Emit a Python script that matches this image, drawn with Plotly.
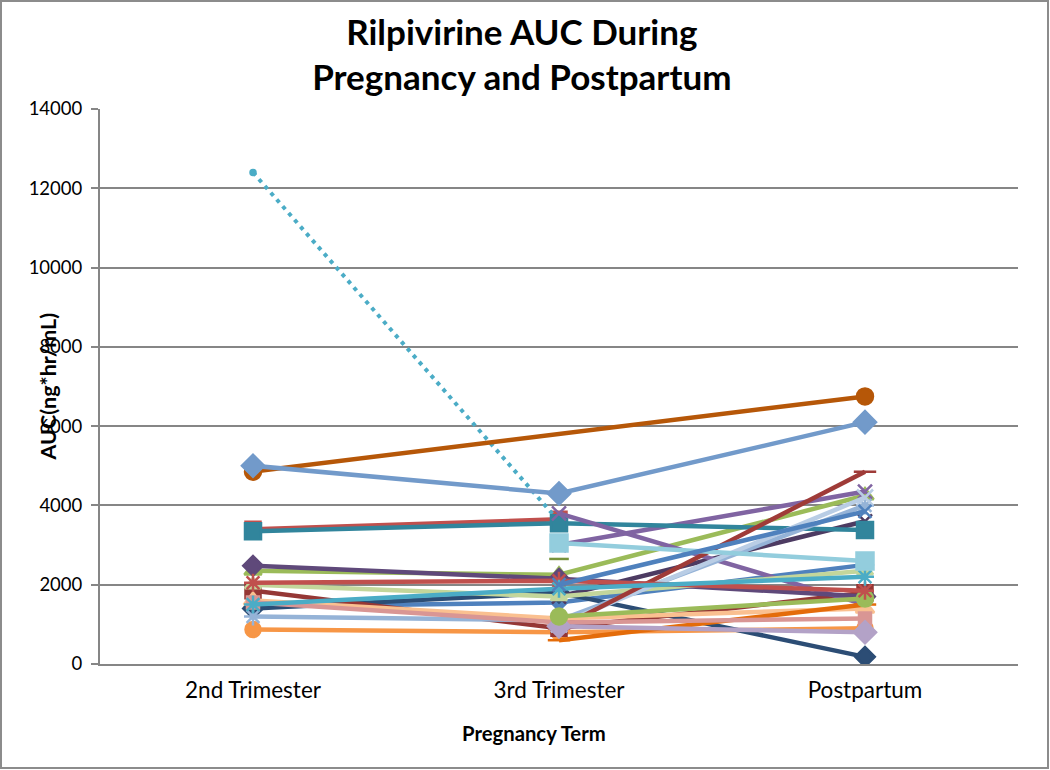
import plotly.graph_objects as go

categories = ["2nd Trimester", "3rd Trimester", "Postpartum"]
y_ticks = [0, 2000, 4000, 6000, 8000, 10000, 12000, 14000]

# AUC values (ng*hr/mL) per subject: [2nd Trimester, 3rd Trimester, Postpartum]
p01 = [1450, 1550, 2500]
p02 = [3400, 3650, None]
p03 = [2350, 2250, 4250]
p04 = [None, 3000, 4350]
p05 = [12400, 3600, None]
p06 = [870, 800, 900]
p07 = [1400, 1800, 180]
p08 = [1850, 900, 1800]
p09 = [None, 2650, None]
p10 = [None, 1700, 3600]
p11 = [3350, 3550, 3380]
p12 = [4850, None, 6750]
p13 = [5000, 4300, 6100]
p14 = [None, 3800, 1500]
p15 = [2480, 2150, 1700]
p16 = [2000, 1700, 2350]
p17 = [1200, 1100, 4000]
p18 = [None, 1000, 4200]
p19 = [None, 900, 4850]
p20 = [1600, 1150, 1400]
p21 = [None, 600, 1500]
p22 = [1550, 1050, 1150]
p23 = [None, 950, 800]
p24 = [None, 1200, 1650]
p25 = [2050, 2100, 1850]
p26 = [1500, 1900, 2200]
p27 = [None, 3050, 2600]
p28 = [None, 2000, 3850]

series = [p01, p02, p03, p04, p05, p06, p07, p08, p09, p10, p11, p12, p13, p14,
          p15, p16, p17, p18, p19, p20, p21, p22, p23, p24, p25, p26, p27, p28]

# styles (color, marker symbol, marker size, dash)
styles = [
    ("#4F81BD", "diamond", 12, "solid"),
    ("#C0504D", "square", 15, "solid"),
    ("#9BBB59", "triangle-up", 15, "solid"),
    ("#8064A2", "x-thin-open", 14, "solid"),
    ("#4BACC6", "circle", 5, "4px,5px"),
    ("#F79646", "circle", 15, "solid"),
    ("#2C4D75", "diamond", 15, "solid"),
    ("#953735", "square", 15, "solid"),
    ("#77933C", "line-ew-open", 14, "solid"),
    ("#4D3B62", "x-thin-open", 14, "solid"),
    ("#31859C", "square", 16, "solid"),
    ("#B65708", "circle", 16, "solid"),
    ("#729ACA", "diamond", 17, "solid"),
    ("#8064A2", "x-thin-open", 14, "solid"),
    ("#5F497A", "diamond", 15, "solid"),
    ("#C3D69B", "triangle-up", 14, "solid"),
    ("#95B3D7", "asterisk-open", 15, "solid"),
    ("#B9CDE5", "x-thin-open", 16, "solid"),
    ("#9F3B38", "line-ew-open", 16, "solid"),
    ("#FAC090", "triangle-up", 16, "solid"),
    ("#E46C0A", "line-ew-open", 16, "solid"),
    ("#D99694", "square", 12, "solid"),
    ("#B3A2C7", "diamond", 17, "solid"),
    ("#9BBB59", "circle", 16, "solid"),
    ("#C0504D", "asterisk-open", 15, "solid"),
    ("#4BACC6", "asterisk-open", 15, "solid"),
    ("#93CDDD", "square", 17, "solid"),
    ("#4F81BD", "x-thin-open", 13, "solid"),
]

x_pos = [0, 1, 2]

fig = go.Figure()
for vals, (col, sym, size, dash) in zip(series, styles):
    width = 4 if dash != "solid" else 4.5
    fig.add_trace(go.Scatter(
        x=x_pos, y=vals, mode="lines+markers", connectgaps=True,
        line=dict(color=col, width=width, dash=dash),
        marker=dict(symbol=sym, size=size, color=col,
                    line=dict(color=col, width=2.5)),
        showlegend=False, hoverinfo="y",
    ))

grid = "#868686"
fig.update_layout(
    width=1050, height=770,
    margin=dict(l=100, r=32, t=109, b=106),
    paper_bgcolor="white", plot_bgcolor="white",
    font=dict(family="Lato, Carlito, 'Open Sans', sans-serif", color="black"),
    title=dict(text="<b>Rilpivirine AUC During<br>Pregnancy and Postpartum</b>",
               x=0.497, xanchor="center", y=0.942, yanchor="middle",
               font=dict(size=35, family="Lato, Carlito, sans-serif", color="black")),
    xaxis=dict(range=[-0.5, 2.5], tickvals=x_pos, ticktext=categories,
               showgrid=False, zeroline=False, showline=True, linecolor=grid,
               linewidth=2, ticks="", tickfont=dict(size=22.5), ticklabelstandoff=5),
    yaxis=dict(range=[0, 14000], tickvals=y_ticks,
               ticktext=[str(v) for v in y_ticks], showgrid=True, gridcolor=grid,
               gridwidth=2, zeroline=False, showline=True, linecolor=grid, linewidth=2,
               ticks="outside", ticklen=7, tickcolor=grid, tickwidth=2,
               tickfont=dict(size=18.5), ticklabelstandoff=5),
    annotations=[
        dict(text="<b>AUC(ng*hr/mL)</b>", textangle=-90, xref="paper", yref="paper",
             x=-53/918, y=0.5, xanchor="center", yanchor="middle", showarrow=False,
             font=dict(size=21.5)),
        dict(text="<b>Pregnancy Term</b>", xref="paper", yref="paper",
             x=0.473, y=-69/555, xanchor="center", yanchor="middle", showarrow=False,
             font=dict(size=20.3)),
    ],
    shapes=[dict(type="rect", xref="paper", yref="paper",
                 x0=-99/918, x1=1 + 30/918, y0=-104/555, y1=1 + 108/555,
                 line=dict(color="#8c8c8c", width=2))],
)

fig.write_html("out.html", config={"displayModeBar": False},
               post_script="document.body.style.margin='0';")
